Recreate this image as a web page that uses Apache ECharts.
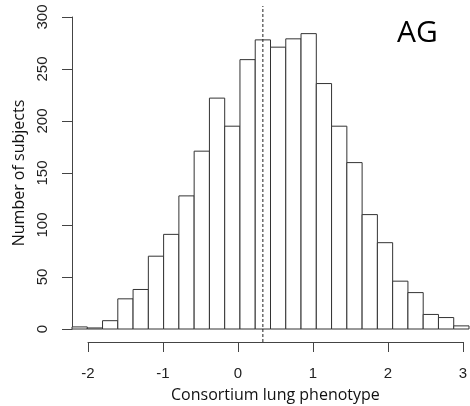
<!DOCTYPE html>
<html>
<head>
<meta charset="utf-8">
<script src="https://cdn.jsdelivr.net/npm/echarts@6/dist/echarts.min.js"></script>
<style>
  html, body { margin: 0; padding: 0; background: #fff; }
  #chart { width: 470px; height: 406px; }
</style>
</head>
<body>
<div id="chart"></div>
<script>
// histogram bins (left edge, right edge) and counts
const binStarts = [-2.2, -2.0, -1.8, -1.6, -1.4, -1.2, -1.0, -0.8, -0.6, -0.4, -0.2, 0.0, 0.2,
  0.4, 0.6, 0.8, 1.0, 1.2, 1.4, 1.6, 1.8, 2.0, 2.2, 2.4, 2.6, 2.8]
const binEnds = [-2.0, -1.8, -1.6, -1.4, -1.2, -1.0, -0.8, -0.6, -0.4, -0.2, 0.0, 0.2, 0.4,
  0.6, 0.8, 1.0, 1.2, 1.4, 1.6, 1.8, 2.0, 2.2, 2.4, 2.6, 2.8, 3.0]
const counts = [2, 1, 8, 29, 38, 70, 91, 128, 171, 222, 195, 259, 278,
  271, 279, 284, 236, 195, 160, 110, 83, 46, 35, 14, 11, 3]
const meanLine = 0.3
const yTicks = [0, 50, 100, 150, 200, 250, 300]
const xTicks = [-2, -1, 0, 1, 2, 3]

const axisColor = '#444'
const tickFont = 'Liberation Sans'
const textFont = 'Open Sans'

const chart = echarts.init(document.getElementById('chart'), null, { renderer: 'canvas' })

const option = {
  animation: false,
  title: {
    text: 'AG',
    left: 392,
    top: 13,
    textStyle: { fontFamily: textFont, fontSize: 30, fontWeight: 'normal', color: '#000' },
  },
  grid: [
    // bars + y axis
    { left: 72, right: 1, top: 17, bottom: 77 },
    // detached x axis (R style)
    { left: 88, right: 1, top: 341, height: 1 },
    // dashed reference line
    { left: 72, right: 1, top: 6, bottom: 64 },
  ],
  xAxis: [
    { gridIndex: 0, type: 'value', min: binStarts[0], max: binEnds[binEnds.length - 1], show: false },
    {
      gridIndex: 1,
      type: 'value',
      min: xTicks[0],
      max: xTicks[xTicks.length - 1],
      interval: 1,
      position: 'bottom',
      splitLine: { show: false },
      axisLine: { show: true, onZero: false, lineStyle: { color: axisColor, width: 1 } },
      axisTick: { show: true, length: 10, lineStyle: { color: axisColor } },
      axisLabel: { margin: 24, fontFamily: tickFont, fontSize: 15, color: '#222' },
      name: 'Consortium lung phenotype',
      nameLocation: 'middle',
      nameGap: 45,
      nameTextStyle: { fontFamily: textFont, fontSize: 16, color: '#111' },
    },
    { gridIndex: 2, type: 'value', min: binStarts[0], max: binEnds[binEnds.length - 1], show: false },
  ],
  yAxis: [
    {
      gridIndex: 0,
      type: 'value',
      min: yTicks[0],
      max: yTicks[yTicks.length - 1],
      interval: 50,
      splitLine: { show: false },
      axisLine: { show: true, onZero: false, lineStyle: { color: axisColor, width: 1 } },
      axisTick: { show: true, length: 10, lineStyle: { color: axisColor } },
      axisLabel: { rotate: 90, margin: 22, fontFamily: tickFont, fontSize: 15, color: '#222' },
      name: 'Number of subjects',
      nameLocation: 'middle',
      nameGap: 45,
      nameRotate: 90,
      nameTextStyle: { fontFamily: textFont, fontSize: 16, color: '#111' },
    },
    { gridIndex: 1, type: 'value', show: false, min: 0, max: 1 },
    { gridIndex: 2, type: 'value', show: false, min: 0, max: 1 },
  ],
  series: [
    {
      type: 'custom',
      xAxisIndex: 0,
      yAxisIndex: 0,
      data: counts.map((c, i) => [binStarts[i], binEnds[i], c]),
      renderItem(params, api) {
        const p0 = api.coord([api.value(0), 0])
        const p1 = api.coord([api.value(1), api.value(2)])
        return {
          type: 'rect',
          shape: { x: p0[0], y: p1[1], width: p1[0] - p0[0], height: p0[1] - p1[1] },
          style: { fill: '#fff', stroke: '#333', lineWidth: 1 },
        }
      },
    },
    {
      type: 'line',
      xAxisIndex: 2,
      yAxisIndex: 2,
      data: [[meanLine, 0], [meanLine, 1]],
      symbol: 'none',
      lineStyle: { color: '#222', width: 1, type: [3, 2] },
      z: 5,
    },
  ],
}

chart.setOption(option)
</script>
</body>
</html>
